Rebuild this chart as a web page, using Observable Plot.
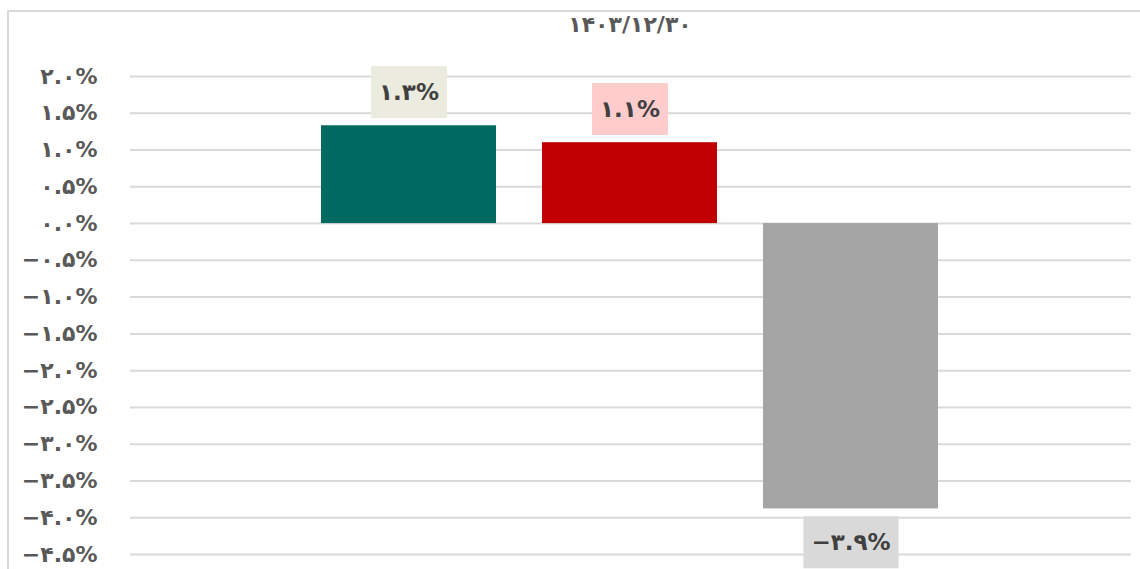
<!DOCTYPE html>
<html>
<head>
<meta charset="utf-8">
<script src="https://cdn.jsdelivr.net/npm/d3@7"></script>
<script src="https://cdn.jsdelivr.net/npm/@observablehq/plot@0.6"></script>
<style>
  html, body { margin: 0; padding: 0; background: #fff; overflow: hidden; }
  #wrap { position: relative; width: 1140px; height: 569px; }
  #frame { position: absolute; left: 7px; top: 10px; width: 1160px; height: 620px; border: 2px solid #D9D9D9; box-sizing: border-box; }
  #title { position: absolute; left: 480px; width: 300px; top: 10px; text-align: center; font: bold 22px "DejaVu Sans", sans-serif; color: #595959; line-height: 30px; letter-spacing: 3px; }
  #chart { position: absolute; left: 0; top: 0; }
</style>
</head>
<body>
<div id="wrap">
  <div id="frame"></div>
  <div id="chart"></div>
  <div id="title"></div>
</div>
<script>
const titleText = "۱۴۰۳/۱۲/۳۰";
const series = ["s1", "s2", "s3"];
const values = [1.33, 1.10, -3.88];
const barColors = ["#006A60", "#C00000", "#A5A5A5"];
const labelBg = ["#EBEBDF", "#FFCCCC", "#D9D9D9"];
const yTicks = [2.0, 1.5, 1.0, 0.5, 0.0, -0.5, -1.0, -1.5, -2.0, -2.5, -3.0, -3.5, -4.0, -4.5];

document.getElementById("title").textContent = titleText;

const fa = s => s.replace(/[0-9]/g, d => "۰۱۲۳۴۵۶۷۸۹"[+d]);
const fmt = v => (v < -1e-9 ? "−" : "") + fa(Math.abs(v).toFixed(1)) + "%";

const data = series.map((s, i) => ({series: s, value: values[i], color: barColors[i], bg: labelBg[i]}));

const chart = Plot.plot({
  width: 1140,
  height: 569,
  marginLeft: 130,
  marginRight: 9,
  marginTop: 0,
  marginBottom: 0,
  style: {fontFamily: "DejaVu Sans, sans-serif", background: "transparent"},
  x: {domain: series, range: [320, 940], paddingInner: 0.207, paddingOuter: 0, axis: null},
  y: {domain: [-4.5, 2.0], range: [554, 76]},
  marks: [
    Plot.gridY(yTicks, {stroke: "#D9D9D9", strokeOpacity: 1, strokeWidth: 2}),
    Plot.axisY(yTicks, {tickSize: 0, tickPadding: 33, tickFormat: fmt, fontSize: 22, fontWeight: "bold", fill: "#595959", label: null}),
    Plot.barY(data, {x: "series", y: "value", fill: "color"}),
    Plot.text(data, {
      x: "series", y: "value", text: d => fmt(d.value),
      className: "vlabel",
      fontSize: 23, fontWeight: "bold", fill: "#404040",
      lineAnchor: "middle", textAnchor: "middle"
    })
  ]
});
document.getElementById("chart").appendChild(chart);

// shift labels away from bar ends and put background boxes behind them
const texts = chart.querySelectorAll("g.vlabel text");
texts.forEach((t, i) => {
  const off = values[i] >= 0 ? -33 : 34;
  const tr = t.getAttribute("transform") || "";
  t.setAttribute("transform", tr + ` translate(0,${off})`);
});
texts.forEach((t, i) => {
  const b = t.getBBox();
  const tr = t.getAttribute("transform");
  const cx = b.x + b.width / 2, cy = b.y + b.height / 2;
  const w = b.width + 16, h = 52;
  const r = document.createElementNS("http://www.w3.org/2000/svg", "rect");
  r.setAttribute("x", cx - w / 2);
  r.setAttribute("y", cy - h / 2);
  r.setAttribute("width", w);
  r.setAttribute("height", h);
  r.setAttribute("fill", labelBg[i]);
  if (tr) r.setAttribute("transform", tr);
  t.parentNode.insertBefore(r, t);
});
</script>
</body>
</html>
